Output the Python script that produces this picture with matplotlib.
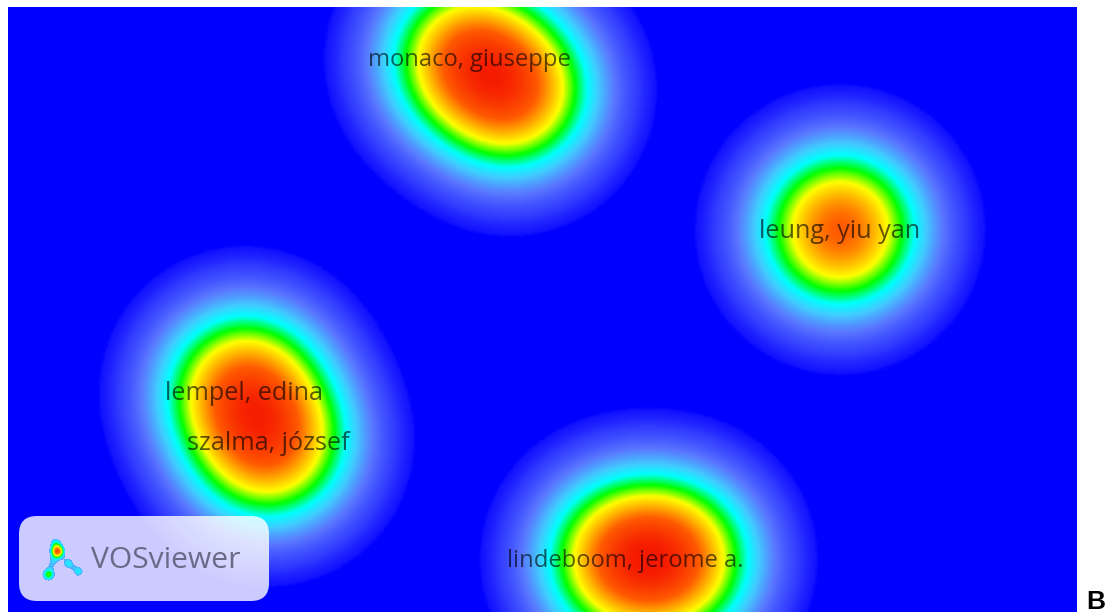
"""VOSviewer style density map of authors."""

import matplotlib

matplotlib.use("Agg")
import matplotlib.pyplot as plt
import numpy as np
from matplotlib.colors import LinearSegmentedColormap
from matplotlib.patches import FancyBboxPatch

# author positions, in pixels (empty label = hidden item)
authors = ["monaco, giuseppe", "", "leung, yiu yan", "lempel, edina", "szalma, józsef", "lindeboom, jerome a.", ""]
author_x = [469, 511, 840, 244, 268, 625, 672]
author_y = [58, 90, 229, 391, 441, 559, 559]
label_size = [17.1, 0, 18.2, 18.2, 18.2, 17.1, 0]

logo_x = [57, 48, 52, 68, 78, 55]
logo_y = [551, 574, 562, 563, 571, 542]
logo_w = [1.0, 0.62, 0.32, 0.42, 0.42, 0.38]

SIGMA = 60.0
LOGO_SIGMA = 5.0
P = 2.2
VMAX = 1.3

stops = [
    (0.0, (0, 0, 255)),
    (0.05, (0, 0, 255)),
    (0.055, (18, 18, 255)),
    (0.11, (50, 60, 255)),
    (0.23, (90, 120, 255)),
    (0.36, (65, 205, 255)),
    (0.46, (0, 255, 255)),
    (0.59, (0, 255, 0)),
    (0.73, (255, 255, 0)),
    (1.0, (255, 90, 0)),
    (1.25, (245, 25, 0)),
    (1.3, (245, 25, 0)),
]
cmap = LinearSegmentedColormap.from_list(
    "vos", [(v / VMAX, tuple(c / 255 for c in rgb)) for v, rgb in stops], N=512
)


def density(xs, ys, gx, gy, sigma, weights=None, p=P):
    if weights is None:
        weights = np.ones(len(xs))
    out = np.zeros_like(gx, dtype=float)
    for x0, y0, w in zip(xs, ys, weights):
        out += (w * np.exp(-((gx - x0) ** 2 + (gy - y0) ** 2) / (2 * sigma**2))) ** p
    return out ** (1 / p)


fig = plt.figure(figsize=(11.1, 6.12), dpi=100)
ax = fig.add_axes([0, 0, 1, 1])
ax.axis("off")

left, right, top, bottom = 8, 1077, 7, 612
gx, gy = np.meshgrid(np.arange(left, right + 1, 2.0), np.arange(top, bottom + 1, 2.0))
ax.imshow(
    density(author_x, author_y, gx, gy, SIGMA),
    extent=(left, right, bottom, top),
    cmap=cmap,
    vmin=0,
    vmax=VMAX,
    interpolation="bilinear",
    aspect="auto",
    zorder=1,
)

for name, x, y, size in zip(authors, author_x, author_y, label_size):
    if name:
        ax.text(x, y + 2, name, family="Open Sans", fontsize=size, color=(0, 0, 0, 0.62),
                ha="center", va="center", zorder=3)

# logo box
ax.add_patch(FancyBboxPatch((35, 532), 218, 53, boxstyle="round,pad=16,rounding_size=18",
                            fc=(1, 1, 1, 0.8), ec="none", zorder=4))

lx, ly = np.meshgrid(np.arange(30, 95, 1.0), np.arange(525, 595, 1.0))
logo = density(logo_x, logo_y, lx, ly, LOGO_SIGMA, logo_w, p=1.2)
ax.imshow(
    np.ma.masked_less(logo, 0.3),
    extent=(30, 95, 595, 525),
    cmap=cmap,
    vmin=0,
    vmax=VMAX,
    interpolation="bilinear",
    aspect="auto",
    zorder=5,
)
ax.text(91, 561, "VOSviewer", family="Open Sans", fontsize=21.6, color="#6a6a88",
        ha="left", va="center", zorder=6)

ax.text(1086, 609, "B", family="Liberation Sans", fontweight="bold", fontsize=19,
        color="black", ha="left", va="baseline", zorder=6)

ax.set_xlim(0, 1110)
ax.set_ylim(612, 0)

fig.savefig("out.png", dpi=100)
plt.close(fig)
